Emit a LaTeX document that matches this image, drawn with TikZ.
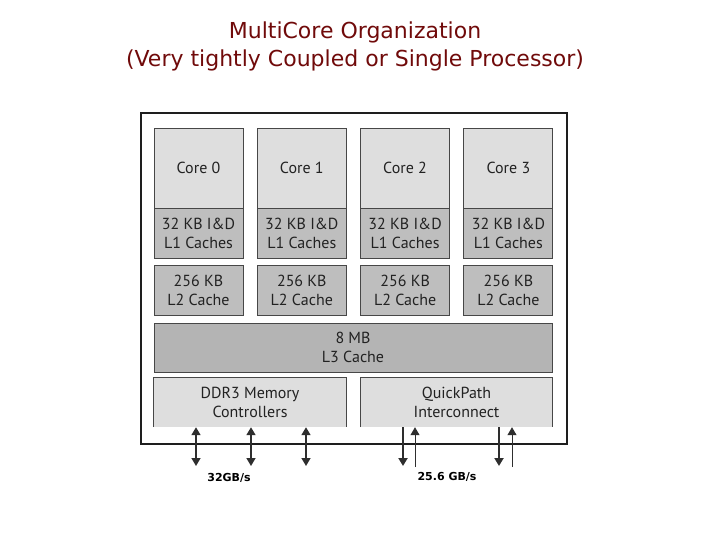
\documentclass[tikz,border=0pt]{standalone}
\usepackage{fontspec}
\setmainfont{PT Sans}
\newfontfamily\titlefont{DejaVu Sans}
\newfontfamily\ratefont{DejaVu Sans}
\usetikzlibrary{arrows.meta, positioning, calc}
\definecolor{cframe}{HTML}{1E1E1E}
\definecolor{cedge}{HTML}{474747}
\definecolor{clight}{HTML}{DEDEDE}
\definecolor{cmid}{HTML}{BEBEBE}
\definecolor{cdark}{HTML}{B4B4B4}
\definecolor{ctitle}{HTML}{700A0A}
\definecolor{ctext}{HTML}{222222}
\definecolor{carrow}{HTML}{2E2E2E}
\tikzset{
  every picture/.style={x=1pt, y=-1pt},
  unit/.style={draw=cedge, fill=#1, line width=0.9pt, align=center, inner sep=0pt, text=ctext, font=\fontsize{16}{19}\selectfont},
  unit/.default=cmid,
  port/.style={fill=clight, align=center, inner sep=0pt, text=ctext, font=\fontsize{16}{19}\selectfont},
  dbl/.style={{Triangle[length=8pt, width=9pt]}-{Triangle[length=8pt, width=9pt]}, draw=carrow, line width=1.6pt},
  down/.style={-{Triangle[length=8pt, width=9pt]}, draw=carrow, line width=2pt},
  up/.style={-{Triangle[length=8pt, width=9pt]}, draw=carrow, line width=1pt},
  rate/.style={font=\ratefont\bfseries\fontsize{11}{13}\selectfont, text=black},
  title/.style={font=\titlefont\fontsize{22}{28}\selectfont, text=ctitle, align=center},
}

\begin{document}
\begin{tikzpicture}
  \useasboundingbox (0,0) rectangle (720,540);
  \node[title] (title) at (355,46) {MultiCore Organization\\(Very tightly Coupled or Single Processor)};
  \node[draw=cframe, fill=white, line width=2.5pt, minimum width=426, minimum height=331] (chip) at (354,278.5) {};
  % four cores with their private caches
  \foreach \i in {0,...,3} {
    \pgfmathsetmacro{\x}{198.5+103.3*\i}
    \node[unit=clight, minimum width=89, minimum height=80] (core\i) at (\x,168) {Core \i};
    \node[unit, minimum width=89, minimum height=50] (lone\i) at (\x,233) {32 KB I\&D\\L1 Caches};
    \node[unit, minimum width=89, minimum height=50] (ltwo\i) at (\x,290) {256 KB\\L2 Cache};
  }
  \node[unit=cdark, minimum width=398, minimum height=49] (lthree) at (353,347.5) {8 MB\\L3 Cache};
  \node[port, minimum width=192, minimum height=49] (ddr) at (250,402.5) {DDR3 Memory\\Controllers};
  \node[port, minimum width=191, minimum height=49] (qpi) at (456.5,402.5) {QuickPath\\Interconnect};
  \draw[cedge, line width=0.9pt] (ddr.south west) -- (ddr.north west) -- (ddr.north east) -- (ddr.south east);
  \draw[cedge, line width=0.9pt] (qpi.south west) -- (qpi.north west) -- (qpi.north east) -- (qpi.south east);
  % memory channels
  \foreach \k/\x in {1/196, 2/251, 3/306} {
    \coordinate (mem\k) at (\x,466);
    \draw[dbl] (mem\k |- ddr.south) -- (mem\k);
  }
  % QuickPath links: out thick, in thin
  \foreach \k/\x in {1/403, 2/499} {
    \coordinate (qout\k) at (\x,466);
    \draw[down] (qout\k |- qpi.south) -- (qout\k);
  }
  \foreach \k/\x in {1/415, 2/512} {
    \coordinate (qin\k) at (\x,467);
    \draw[up] (qin\k) -- (qin\k |- qpi.south);
  }
  \node[rate] (ddrrate) at (229,478) {32GB/s};
  \node[rate] (qpirate) at (447,477) {25.6 GB/s};
\end{tikzpicture}
\end{document}
